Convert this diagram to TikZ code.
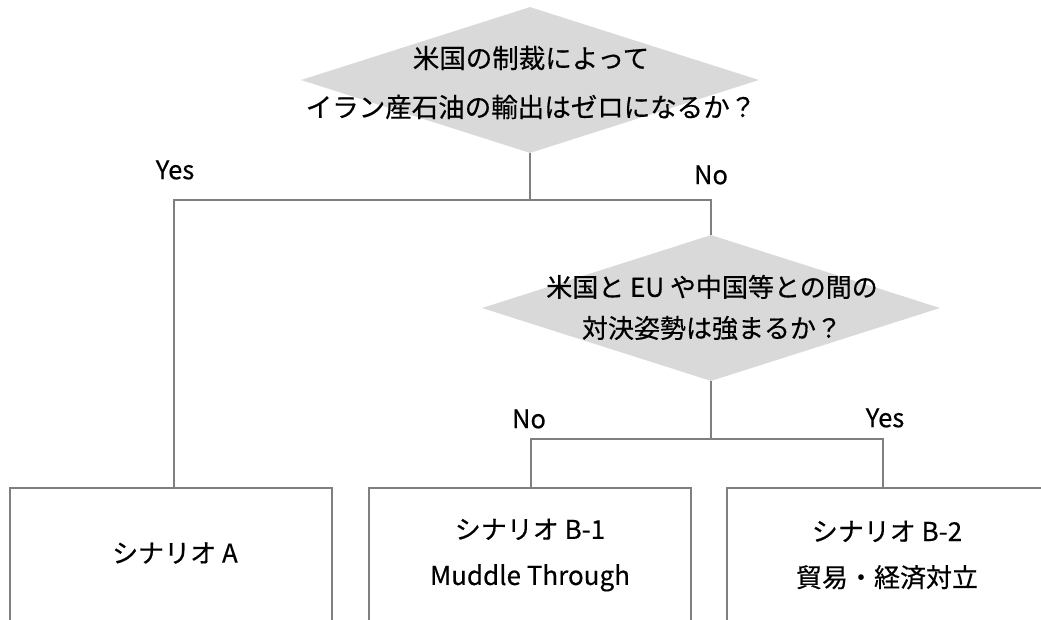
\documentclass[tikz,border=0pt]{standalone}
\usepackage{fontspec}
\setmainfont{Noto Sans CJK JP}[FakeBold=0.4]
\usetikzlibrary{shapes.geometric}
\definecolor{linegray}{HTML}{7F7F7F}
\definecolor{diafill}{HTML}{D9D9D9}
\tikzset{
 conn/.style={draw=linegray, line width=2pt},
 dia/.style={diamond, fill=diafill, draw=none, inner sep=0pt, minimum width=458pt, minimum height=146pt},
 qtext/.style={align=center, inner sep=0pt, font=\fontsize{26.5}{49}\selectfont},
 qtextb/.style={align=center, inner sep=0pt, font=\fontsize{26}{41}\selectfont},
 btext/.style={align=center, inner sep=0pt, font=\fontsize{26}{46}\selectfont},
 lbl/.style={inner sep=0pt, font=\fontsize{25.5}{30}\selectfont},
 box/.style={rectangle, draw=linegray, line width=2pt, minimum width=322pt, minimum height=240pt, anchor=north, inner sep=0pt},
}
\begin{document}
\begin{tikzpicture}[x=1pt,y=-1pt]
\useasboundingbox (0,0) rectangle (1041,619);
\clip (0,0) rectangle (1041,619);
% decision 1
\node[dia] (d1) at (530,80) {};
\node[qtext] (t1) at (531,82.5) {米国の制裁によって\\イラン産石油の輸出はゼロになるか？};
% decision 2
\node[dia] (d2) at (711,308) {};
\node[qtextb] (t2) at (712,307.5) {米国と EU や中国等との間の\\対決姿勢は強まるか？};
% boxes
\node[box] (bA) at (171,487) {};
\node[box] (bB1) at (529.5,487) {};
\node[box] (bB2) at (887.5,487) {};
\node[btext] (tA) at (175,553) {シナリオ A};
\node[btext] (tB1) at (530,555) {シナリオ B-1\\Muddle Through};
\node[btext] (tB2) at (887,555) {シナリオ B-2\\貿易・経済対立};
% junctions
\coordinate (j1) at (530,200);
\coordinate (jA) at (174,200);
\coordinate (jN) at (711,200);
\coordinate (j2) at (711,439);
\coordinate (jB1) at (531,439);
\coordinate (jB2) at (883,439);
% connectors
\draw[conn] (d1.south) -- (j1);
\draw[conn] (bA.north -| jA) -- (jA) -- (jN) -- (d2.north);
\draw[conn] (d2.south) -- (j2);
\draw[conn] (bB1.north -| jB1) -- (jB1) -- (jB2) -- (bB2.north -| jB2);
% labels
\node[lbl] (lY1) at (175,170) {Yes};
\node[lbl] (lN1) at (711,175) {No};
\node[lbl] (lN2) at (529,419) {No};
\node[lbl] (lY2) at (885,418) {Yes};
\end{tikzpicture}
\end{document}
